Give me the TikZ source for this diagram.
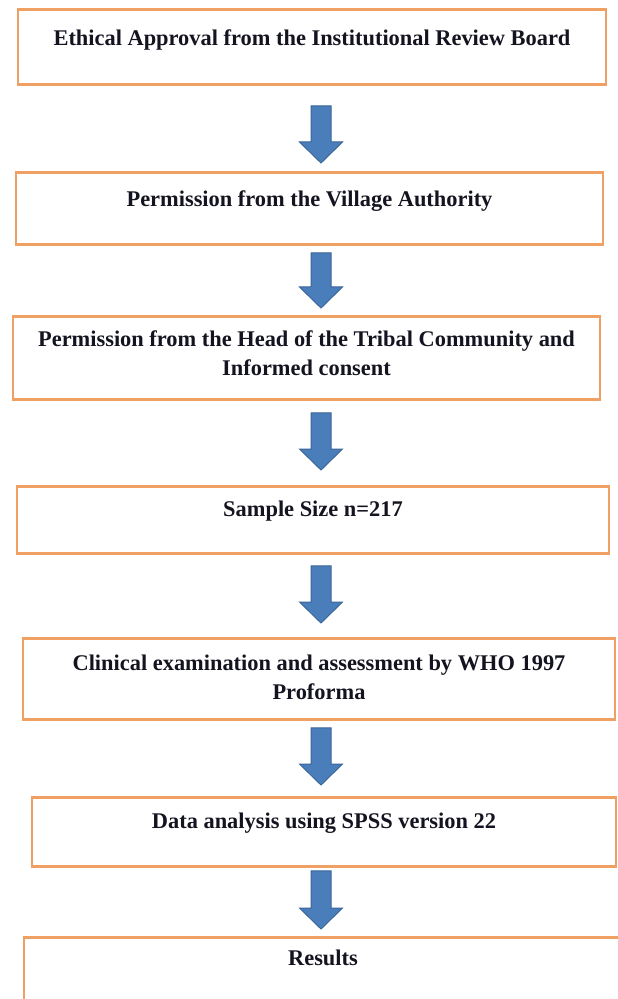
\documentclass[tikz,border=0pt]{standalone}
\usepackage{fontspec}
\setmainfont{Liberation Serif}
\usetikzlibrary{calc}
\definecolor{BoxOrange}{HTML}{F0A062}
\definecolor{ArrowBlue}{HTML}{4A7EBB}
\definecolor{ArrowEdge}{HTML}{3A6699}
\definecolor{Ink}{HTML}{141420}
\tikzset{
  stage/.style={draw=BoxOrange,line width=1.4pt,anchor=north,align=center,
    inner ysep=0pt,text=Ink,font=\fontsize{11.2}{14.5}\selectfont\bfseries},
  blockarrow/.style={draw=ArrowEdge,fill=ArrowBlue,line width=.5pt,
    to path={let \p1=(\tikztostart),\p2=(\tikztotarget) in
      (\x1-5pt,\y1) -- (\x1+5pt,\y1) -- (\x1+5pt,\y2+10.5pt) -- (\x1+10.75pt,\y2+10.5pt)
      -- (\x1,\y2) -- (\x1-10.75pt,\y2+10.5pt) -- (\x1-5pt,\y2+10.5pt) -- cycle}}
}
\begin{document}
\begin{tikzpicture}[x=.5pt,y=-.5pt]
  \path[use as bounding box,fill=white] (0,0) rectangle (617,999);
  % boxes, top to bottom
  \node[stage,minimum width=294pt,text height=18pt,text depth=19.5pt] (b1) at (312,8)
    {Ethical Approval from the Institutional Review Board};
  \node[stage,minimum width=293.5pt,text height=17pt,text depth=19pt] (b2) at (309.5,171)
    {Permission from the Village Authority};
  \node[stage,minimum width=293.5pt,text height=29.5pt,text depth=12pt] (b3) at (306.5,315)
    {Permission from the Head of the Tribal Community and\\Informed consent};
  \node[stage,minimum width=296pt,text height=15pt,text depth=18.5pt] (b4) at (313,485)
    {Sample Size n=217};
  \node[stage,minimum width=296pt,text height=30.5pt,text depth=10pt] (b5) at (319,637)
    {Clinical examination and assessment by WHO 1997\\Proforma};
  \node[stage,minimum width=292pt,text height=15.5pt,text depth=19pt] (b6) at (324,796)
    {Data analysis using SPSS version 22};
  \node[stage,minimum width=299pt,text height=14pt,text depth=25pt] (b7) at (323,936)
    {Results};
  % arrows
  \coordinate (axis) at (321,0);
  \draw[blockarrow] ($(b1.south -| axis)+(0,20)$) to ($(b2.north -| axis)+(0,-8)$);
  \draw[blockarrow] ($(b2.south -| axis)+(0,7)$) to ($(b3.north -| axis)+(0,-7)$);
  \draw[blockarrow] ($(b3.south -| axis)+(0,12)$) to ($(b4.north -| axis)+(0,-15)$);
  \draw[blockarrow] ($(b4.south -| axis)+(0,11)$) to ($(b5.north -| axis)+(0,-14)$);
  \draw[blockarrow] ($(b5.south -| axis)+(0,7)$) to ($(b6.north -| axis)+(0,-11)$);
  \draw[blockarrow] ($(b6.south -| axis)+(0,3)$) to ($(b7.north -| axis)+(0,-7)$);
\end{tikzpicture}
\end{document}
